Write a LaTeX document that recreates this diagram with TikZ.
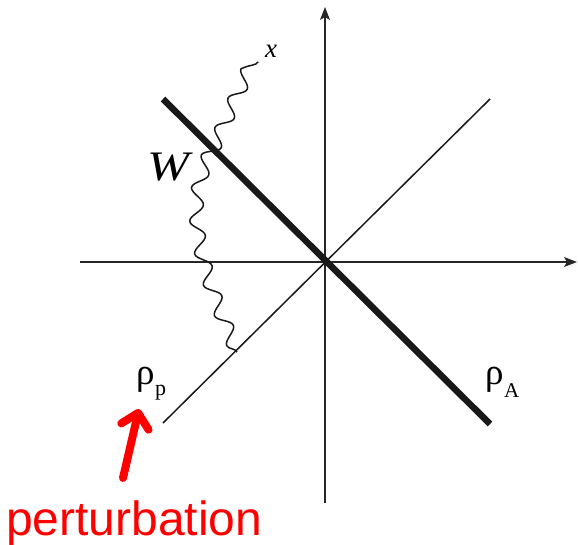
\documentclass[tikz,border=0pt]{standalone}
\usepackage{fontspec}
\setmainfont{Liberation Serif}
\newfontfamily\arialfont{Liberation Sans}
\usetikzlibrary{arrows.meta,decorations.pathmorphing}
\begin{document}
\begin{tikzpicture}[x=1pt,y=-1pt,
  axis/.style={line width=1.1pt, draw=black!85, -{Stealth[length=13pt,width=10pt,inset=3pt]}},
  thinline/.style={line width=1.5pt, draw=black!90},
  thickline/.style={line width=6.5pt, draw=black!90},
  wave/.style={line width=1.5pt, draw=black!90, decorate,
    decoration={snake, segment length=32pt, amplitude=7pt}},
  lab/.style={inner sep=0pt, anchor=base west},
  redarrow/.style={draw=red, line width=8pt, line cap=round,
    -{Straight Barb[length=14pt,width=28pt,line cap=round,line join=round]}}]
\useasboundingbox (0,0) rectangle (578,545);
% axes
\coordinate (vb) at (325,503);
\coordinate (vt) at (325,7);
\coordinate (hl) at (80,262);
\coordinate (hr) at (577,262);
\draw[axis] (vb) -- (vt);
\draw[axis] (hl) -- (hr);
% diagonals
\coordinate (pA1) at (163,99);
\coordinate (pA2) at (490,424);
\coordinate (pp1) at (163,423);
\coordinate (pp2) at (490,99);
\draw[thinline] (pp1) -- (pp2);
\draw[thickline] (pA1) -- (pA2);
% wave
\coordinate (wb) at (237,352);
\coordinate (w2) at (200,205);
\coordinate (w3) at (218,152);
\coordinate (we) at (258,62);
\draw[wave] (wb) .. controls (215,300) and (196,250) .. (w2)
  .. controls (203,180) and (210,165) .. (w3) -- (we);
% labels
\node[lab, font=\fontsize{27}{27}\selectfont\itshape] (xl) at (265,58) {x};
\node[lab, font=\fontsize{42}{42}\selectfont\itshape] (W) at (147,181) {\scalebox{1.2}[1]{W}};
\node[lab, font=\fontsize{37}{37}\selectfont] (rp) at (136,384) {ρ\kern0.5pt\raisebox{-11pt}{\fontsize{22}{22}\selectfont p}};
\node[lab, font=\fontsize{37}{37}\selectfont] (rA) at (485,384) {ρ\kern0.5pt\raisebox{-13pt}{\fontsize{21}{21}\selectfont A}};
\node[lab, font=\arialfont\fontsize{48}{48}\selectfont, text=red] (pert) at (6,535) {perturbation};
% red arrow
\coordinate (rt) at (123,478);
\coordinate (rh) at (139,409);
\draw[redarrow] (rt) -- (rh);
\end{tikzpicture}
\end{document}
